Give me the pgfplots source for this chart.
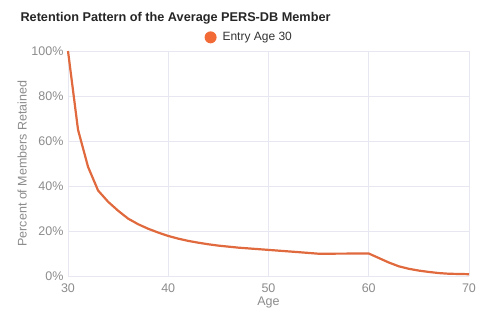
\documentclass[border=0pt]{standalone}
\usepackage{pgfplots}
\pgfplotsset{compat=1.18}
\usepackage{fontspec}
\setmainfont{Liberation Sans}
\definecolor{linecol}{HTML}{E0693D}
\definecolor{legcol}{HTML}{F26A35}
\definecolor{gridcol}{HTML}{E6E7F0}
\definecolor{tickcol}{HTML}{8C8C8C}
\begin{document}
\begin{tikzpicture}[x=1pt,y=1pt]
\path (-68,-34) rectangle (416,276);
\begin{axis}[
  at={(0,0)}, anchor=south west,
  scale only axis, width=401pt, height=225pt,
  xmin=30, xmax=70, ymin=0, ymax=100,
  xtick={30,40,50,60,70}, ytick={0,20,40,60,80,100},
  yticklabel={\pgfmathprintnumber{\tick}\%},
  /pgf/number format/assume math mode=true,
  grid=major, major grid style={draw=gridcol, line width=0.8pt},
  axis line style={draw=none},
  tick style={draw=none},
  ticklabel style={text=tickcol, font=\fontsize{12.5}{14}\selectfont},
  yticklabel style={xshift=-1pt},
  xticklabel style={yshift=-4pt},
  xlabel={Age}, ylabel={Percent of Members Retained},
  label style={text=tickcol, font=\fontsize{12.5}{14}\selectfont},
  xlabel style={yshift=2pt},
  ylabel style={yshift=-2pt},
  legend style={at={(axis description cs:0.452,1.02)}, anchor=south, draw=none, fill=none,
    font=\fontsize{12}{14}\selectfont, text=black!80},
  legend image code/.code={\path[draw=none,fill=none] (0,0) rectangle (0.55cm,0); \fill[legcol,draw=none] (0.2cm,0) circle (6pt);},
  legend cell align=left,
  clip=false,
]
\addplot[linecol, line width=2.2pt, line join=round] coordinates {
(30,100) (31,65) (32,48.5) (33,38) (34,33) (35,29) (36,25.5) (37,23) (38,21)
(39,19.3) (40,17.8) (41,16.6) (42,15.6) (43,14.8) (44,14.1) (45,13.5) (47,12.6)
(50,11.6) (53,10.6) (55,9.9) (60,10) (61,8) (62,6) (63,4.3) (64,3.2) (65,2.4)
(66,1.8) (67,1.3) (68,1.0) (70,0.8)
};
\addlegendentry{Entry Age 30}
\end{axis}
\node[anchor=west, font=\bfseries\fontsize{12.7}{15}\selectfont, text=black!85] at (-51,258) {Retention Pattern of the Average PERS-DB Member};
\end{tikzpicture}
\end{document}
